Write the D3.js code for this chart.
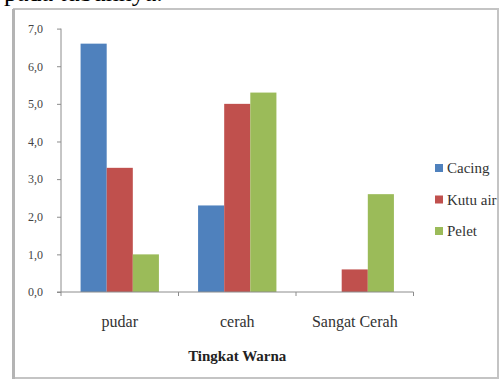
<!DOCTYPE html>
<html>
<head>
<meta charset="utf-8">
<script src="https://cdn.jsdelivr.net/npm/d3@7"></script>
<style>
  html, body { margin: 0; padding: 0; background: #fff; }
  svg { display: block; }
</style>
</head>
<body>
<script>
// Tingkat warna per jenis pakan
const categories = ["pudar", "cerah", "Sangat Cerah"];
const seriesNames = ["Cacing", "Kutu air", "Pelet"];
const cacing = [6.6, 2.3, 0];
const kutuAir = [3.3, 5.0, 0.6];
const pelet = [1.0, 5.3, 2.6];
const yTicks = [0, 1, 2, 3, 4, 5, 6, 7];
const colors = ["#4F81BD", "#C0504D", "#9BBB59"];
const xTitle = "Tingkat Warna";

const SERIF = "'Liberation Serif', 'Times New Roman', serif";

const values = [cacing, kutuAir, pelet];
const rows = categories.map((c, i) => ({
  cat: c,
  vals: seriesNames.map((s, j) => ({ name: s, value: values[j][i], color: colors[j] }))
}));

const W = 503, H = 381;
const svg = d3.select("body").append("svg").attr("width", W).attr("height", H);

// running text above the figure, partly cut by the page edge
svg.append("text").attr("x", 4).attr("y", 1)
  .style("font-family", SERIF).attr("font-size", 26).attr("fill", "#000")
  .text("pada tubuhnya.");

// figure frame
svg.append("rect").attr("x", 14).attr("y", 9).attr("width", 484).attr("height", 369)
  .attr("fill", "#fff").attr("stroke", "#c4c4c4").attr("stroke-width", 2);
svg.append("line").attr("x1", 13.5).attr("x2", 13.5).attr("y1", 9).attr("y2", 379)
  .attr("stroke", "#b4b4b4").attr("stroke-width", 3);

const plot = { left: 61, right: 413.5, top: 28.6, bottom: 292 };

const x0 = d3.scaleBand().domain(categories).range([plot.left, plot.right]).padding(0);
const x1 = d3.scaleBand().domain(seriesNames).range([0, x0.bandwidth()])
  .paddingInner(0).paddingOuter(0.75);
const y = d3.scaleLinear().domain([0, 7]).range([plot.bottom, plot.top]);

// bars
const g = svg.append("g");
g.selectAll("g.cat").data(rows).join("g")
  .attr("class", "cat")
  .attr("transform", d => `translate(${x0(d.cat)},0)`)
  .selectAll("rect").data(d => d.vals).join("rect")
  .attr("x", d => x1(d.name))
  .attr("width", x1.bandwidth())
  .attr("y", d => y(d.value))
  .attr("height", d => y(0) - y(d.value))
  .attr("fill", d => d.color);

const axisColor = "#8c8c8c";

// y axis
const yAxis = d3.axisLeft(y).tickValues(yTicks).tickSize(4).tickPadding(14)
  .tickFormat(d => d3.format(".1f")(d).replace(".", ","));
const ya = svg.append("g").attr("transform", `translate(${plot.left},0)`).call(yAxis)
  .attr("font-family", null);
ya.select(".domain").attr("stroke", axisColor).attr("d", `M0,${plot.top}V${plot.bottom}`);
ya.selectAll(".tick line").attr("stroke", axisColor);
ya.selectAll(".tick text").attr("font-size", 12).attr("fill", "#444")
  .style("font-family", SERIF);

// x axis: baseline, boundary ticks and category labels
const xa = svg.append("g").attr("transform", `translate(0,${plot.bottom})`);
xa.append("line").attr("x1", plot.left - 4).attr("x2", plot.right)
  .attr("stroke", axisColor);
const bounds = categories.map(c => x0(c)).concat([x0(categories[categories.length - 1]) + x0.bandwidth()]);
xa.selectAll("line.b").data(bounds).join("line").attr("class", "b")
  .attr("x1", d => d).attr("x2", d => d).attr("y1", 0).attr("y2", 4)
  .attr("stroke", axisColor);
xa.selectAll("text.cat").data(categories).join("text").attr("class", "cat")
  .attr("x", d => x0(d) + x0.bandwidth() / 2).attr("y", 35)
  .attr("text-anchor", "middle").style("font-family", SERIF)
  .attr("font-size", 16).attr("fill", "#333")
  .text(d => d);

svg.append("text").attr("x", (plot.left + plot.right) / 2).attr("y", 361)
  .attr("text-anchor", "middle").style("font-family", SERIF)
  .attr("font-size", 15).attr("font-weight", "bold")
  .attr("fill", "#222").text(xTitle);

// legend
const lg = svg.append("g").attr("transform", "translate(435,168)");
const li = lg.selectAll("g").data(seriesNames).join("g")
  .attr("transform", (d, i) => `translate(0,${i * 31.5})`);
li.append("rect").attr("x", 0).attr("y", -4).attr("width", 8).attr("height", 8)
  .attr("fill", (d, i) => colors[i]);
li.append("text").attr("x", 12).attr("y", 5).style("font-family", SERIF)
  .attr("font-size", 15).attr("fill", "#333")
  .text(d => d);
</script>
</body>
</html>
